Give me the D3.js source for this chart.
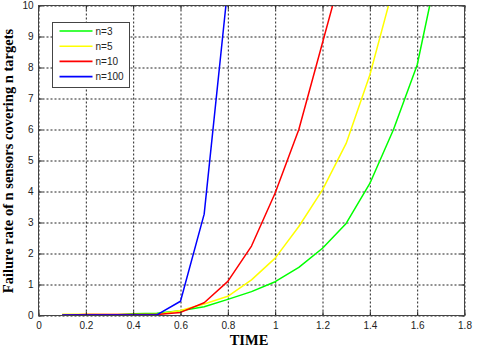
<!DOCTYPE html>
<html>
<head>
<meta charset="utf-8">
<script src="https://cdn.jsdelivr.net/npm/d3@7"></script>
<style>
  body { margin: 0; background: #fff; }
  svg { display: block; }
</style>
</head>
<body>
<div id="chart"></div>
<script>
// values
var times = [0.1, 0.2, 0.3, 0.4, 0.5, 0.6, 0.7, 0.8, 0.9, 1.0, 1.1, 1.2, 1.3, 1.4, 1.5, 1.6, 1.7];
var n3   = [0.01, 0.01, 0.01, 0.06, 0.07, 0.15, 0.28, 0.52, 0.77, 1.09, 1.55, 2.17, 2.97, 4.26, 6.0, 8.08, 11.7];
var n5   = [0.04, 0.04, 0.03, 0.03, 0.03, 0.16, 0.37, 0.62, 1.15, 1.85, 2.87, 4.05, 5.55, 7.76, 10.6];
var n10  = [0.01, 0.03, 0.03, 0.03, 0.03, 0.1, 0.41, 1.1, 2.24, 3.95, 6.0, 8.8, 11.6];
var n100 = [0.02, 0.02, 0.02, 0.02, 0.02, 0.46, 3.27, 10.6];

var seriesNames = ["n=3", "n=5", "n=10", "n=100"];
var seriesValues = [n3, n5, n10, n100];
var seriesColors = ["#00ff00", "#ffff00", "#ff0000", "#0000ff"];

var xTicks = [0, 0.2, 0.4, 0.6, 0.8, 1, 1.2, 1.4, 1.6, 1.8];
var yTicks = [0, 1, 2, 3, 4, 5, 6, 7, 8, 9, 10];

var W = 480, H = 352;
var margin = { top: 5.5, right: 15.5, bottom: 36.5, left: 38.5 },
  width = W - margin.left - margin.right,
  height = H - margin.top - margin.bottom;

var svg = d3.select("#chart").append("svg")
  .attr("width", W)
  .attr("height", H);

var xScale = d3.scaleLinear().domain([0, 1.8]).range([0, width]);
var yScale = d3.scaleLinear().domain([0, 10]).range([height, 0]);

var group = svg.append("g")
  .attr("transform", "translate(" + margin.left + "," + margin.top + ")");

group.append("rect")
  .attr("width", width).attr("height", height)
  .attr("fill", "#fff");

// dotted grid
group.append("g")
  .call(d3.axisBottom(xScale).tickValues(xTicks).tickSize(-height).tickFormat(""))
  .attr("transform", "translate(0," + height + ")")
  .call(function (g) {
    g.select(".domain").remove();
    g.selectAll("line").attr("stroke", "#222").attr("stroke-dasharray", "2,2");
  });
group.append("g")
  .call(d3.axisLeft(yScale).tickValues(yTicks).tickSize(-width).tickFormat(""))
  .call(function (g) {
    g.select(".domain").remove();
    g.selectAll("line").attr("stroke", "#222").attr("stroke-dasharray", "2,2");
  });

// lines
group.append("clipPath").attr("id", "clip")
  .append("rect").attr("width", width).attr("height", height);

var line = d3.line()
  .x(function (d) { return xScale(d[0]); })
  .y(function (d) { return yScale(d[1]); });

seriesValues.forEach(function (vals, i) {
  var pts = vals.map(function (v, j) { return [times[j], v]; });
  group.append("path")
    .datum(pts)
    .attr("clip-path", "url(#clip)")
    .attr("fill", "none")
    .attr("stroke", seriesColors[i])
    .attr("stroke-width", 1.5)
    .attr("stroke-linejoin", "round")
    .attr("d", line);
});

// axes with inward ticks on all four sides
var tickFont = "Arial, 'Liberation Sans', sans-serif";
group.append("g")
  .attr("transform", "translate(0," + height + ")")
  .call(d3.axisBottom(xScale).tickValues(xTicks).tickSize(-4).tickPadding(6).tickFormat(d3.format("")))
  .call(function (g) {
    g.select(".domain").remove();
    g.selectAll("line").attr("stroke", "#222");
    g.selectAll("text").attr("font-family", tickFont).attr("font-size", 10).attr("fill", "#222");
  });
group.append("g")
  .call(d3.axisLeft(yScale).tickValues(yTicks).tickSize(-4).tickPadding(5).tickFormat(d3.format("")))
  .call(function (g) {
    g.select(".domain").remove();
    g.selectAll("line").attr("stroke", "#222");
    g.selectAll("text").attr("font-family", tickFont).attr("font-size", 10).attr("fill", "#222");
  });
group.append("g")
  .call(d3.axisTop(xScale).tickValues(xTicks).tickSize(-4).tickFormat(""))
  .call(function (g) { g.select(".domain").remove(); g.selectAll("line").attr("stroke", "#222"); });
group.append("g")
  .attr("transform", "translate(" + width + ",0)")
  .call(d3.axisRight(yScale).tickValues(yTicks).tickSize(-4).tickFormat(""))
  .call(function (g) { g.select(".domain").remove(); g.selectAll("line").attr("stroke", "#222"); });

group.append("rect")
  .attr("width", width).attr("height", height)
  .attr("fill", "none").attr("stroke", "#444").attr("stroke-width", 1);

// axis titles
var titleFont = "'Liberation Serif', 'Times New Roman', serif";
svg.append("text")
  .attr("x", 249)
  .attr("y", 345)
  .attr("text-anchor", "middle")
  .attr("font-family", titleFont)
  .attr("font-weight", "bold")
  .attr("font-size", 14.5)
  .text("TIME");

svg.append("text")
  .attr("transform", "translate(12.5,161) rotate(-90)")
  .attr("text-anchor", "middle")
  .attr("font-family", titleFont)
  .attr("font-weight", "bold")
  .attr("font-size", 14.5)
  .text("Failure rate of n sensors covering n targets");

// legend
var legend = svg.append("g").attr("transform", "translate(52.5,22.5)");
legend.append("rect")
  .attr("width", 77).attr("height", 65)
  .attr("fill", "#fff").attr("stroke", "#444");
seriesNames.forEach(function (name, i) {
  var y = 8.5 + i * 15.2;
  legend.append("line")
    .attr("x1", 7).attr("x2", 40).attr("y1", y).attr("y2", y)
    .attr("stroke", seriesColors[i]).attr("stroke-width", 1.6);
  legend.append("text")
    .attr("x", 43).attr("y", y + 3.5)
    .attr("font-family", tickFont).attr("font-size", 10).attr("fill", "#222")
    .text(name);
});
</script>
</body>
</html>
